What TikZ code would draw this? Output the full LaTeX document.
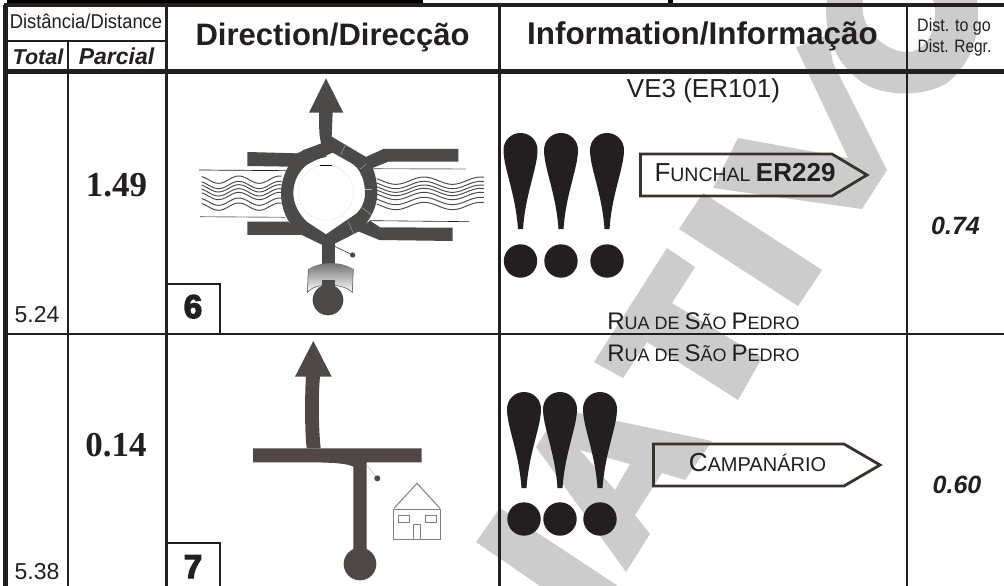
\documentclass[tikz,border=0pt]{standalone}
\usepackage{fontspec}
\setmainfont{Liberation Sans}
\newfontfamily\tmsfont{Liberation Serif}
\newfontfamily\heavyfont[FakeBold=4]{Liberation Sans Bold}
\usetikzlibrary{calc}
\newcommand{\fz}[1]{\fontsize{#1}{#1}\selectfont}
\definecolor{ink}{HTML}{231F20}
\definecolor{road}{HTML}{4B4A49}
\definecolor{roadb}{HTML}{4F4846}
\definecolor{wm}{HTML}{CCCCCC}
\definecolor{signline}{HTML}{38342C}
\tikzset{
  x=1pt,y=-1pt,
  txt/.style={inner sep=0pt,outer sep=0pt,text=ink,anchor=base},
  rule/.style={draw=ink,line width=2.2pt},
  thick rule/.style={draw=ink,line width=4.5pt},
  numbox/.style={draw=ink,line width=2pt},
  roadfill/.style={fill=road,draw=none},
  wave/.style={draw=road,line width=0.95pt},
  signbox/.style={draw=signline,line width=2.8pt,line join=miter},
  housel/.style={draw=black!50,line width=1pt},
  drop/.style={fill=ink,draw=none},
}
\begin{document}
\begin{tikzpicture}
\useasboundingbox (0,0) rectangle (1004,586);
\fill[white] (0,0) rectangle (1004,586);
% watermark
\begin{scope}[every path/.style={fill=wm,draw=none}]
\path (827,0) .. controls (823,30) and (833,62) .. (863,83) .. controls (885,97) and (925,97) .. (947,83) .. controls (970,65) and (982,35) .. (977,0) -- (933,0) .. controls (940,20) and (930,52) .. (907,52) .. controls (885,52) and (858,28) .. (863,0) -- cycle;
\path (796,47) -- (828,35) -- (833,63) -- (887,170) -- (862,209) -- (713,188) -- (738,138) -- (848,158) -- cycle;
\path (703,193) -- (822,270) -- (798,306) -- (679,229) -- cycle;
\path (667,248) -- (695,267) -- (672,303) -- (762,358) -- (738,400) -- (647,342) -- (623,378) -- (594,362) -- cycle;
\path[even odd rule] (560,409) -- (712,441) -- (685,480) -- (662,473) -- (635,515) -- (650,534) -- (626,572) -- (536,447) -- cycle (580,450) -- (630,464) -- (615,490) -- cycle;
\path (500,508) -- (618,586) -- (540,586) -- (476,542) -- cycle;
\end{scope}
% table
\fill[black] (7,0) rectangle (423,3);
\fill[black] (668,0) rectangle (673,3);
\draw[thick rule] (5.5,5) -- (5.5,586);
\draw[draw=ink,line width=4pt] (4,5) -- (1004,5);
\draw[thick rule] (4,71.5) -- (1004,71.5);
\draw[rule] (4,334) -- (1004,334);
\draw[rule] (8,41) -- (166.5,41);
\draw[rule] (68,41) -- (68,586);
\draw[rule] (166.5,5) -- (166.5,586);
\draw[rule] (499.5,5) -- (499.5,586);
\draw[rule] (907,5) -- (907,586);
\draw[numbox] (166.5,284) -- (220,284) -- (220,334);
\draw[numbox] (166.5,543) -- (220,543) -- (220,586);
% header text
\node[txt] (hdist) at (86,29) {\scalebox{0.92}[1]{\fz{20}Distância/Distance}};
\node[txt] (htotal) at (38,65) {\fz{21.5}\bfseries\itshape Total};
\node[txt] (hparc) at (116.5,65) {\fz{23}\bfseries\itshape Parcial};
\node[txt] (hdir) at (332.5,46) {\fz{31}\bfseries Direction/Direcção};
\node[txt] (hinf) at (702.5,45) {\fz{31.4}\bfseries Information/Informação};
\node[txt] (hgo) at (954,32) {\scalebox{0.89}[1]{\fz{18}Dist. to go}};
\node[txt] (hreg) at (954.5,53) {\scalebox{0.86}[1]{\fz{18}Dist. Regr.}};
% row values
\node[txt] (p1) at (116.5,196) {\fz{35}\tmsfont\bfseries 1.49};
\node[txt] (p2) at (116,456) {\fz{35}\tmsfont\bfseries 0.14};
\node[txt] (t1) at (37,322) {\fz{23}5.24};
\node[txt] (t2) at (37,579) {\fz{23}5.38};
\node[txt] (r1) at (955.5,234) {\fz{25}\bfseries\itshape 0.74};
\node[txt] (r2) at (957,493) {\fz{25}\bfseries\itshape 0.60};
\node[txt] (n6) at (193,318) {\fz{33}\heavyfont 6};
\node[txt] (n7) at (193,578) {\fz{33}\heavyfont 7};
% information text
\node[txt] (ve) at (703.5,97) {\fz{26}VE3 (ER101)};
\node[txt] (rua1) at (703.5,329) {\fz{24}R\fz{18}UA DE \fz{24}S\fz{18}ÃO \fz{24}P\fz{18}EDRO};
\node[txt] (rua2) at (703.5,361) {\fz{24}R\fz{18}UA DE \fz{24}S\fz{18}ÃO \fz{24}P\fz{18}EDRO};
% signs
\draw[signbox] (640.5,154) -- (832,154) -- (867,175) -- (832,196) -- (640.5,196) -- cycle;
\node[txt,anchor=base west] (fun) at (654.5,181) {\fz{26}F\fz{19.5}UNCHAL \fz{26}\bfseries ER229};
\draw[signbox] (653.5,444) -- (844,444) -- (880,465) -- (844,486) -- (653.5,486) -- cycle;
\node[txt] (cam) at (757.5,471) {\fz{26}C\fz{20}AMPANÁRIO};
% exclamation marks
\foreach \cx/\top/\cy in {520.5/133/261,561/133/261,607/133/261,524/392/519,560/392/519,600/392/519}{
  \path[drop] ({\cx-2.5},{\top+96}) .. controls ({\cx-5},{\top+60}) and ({\cx-17},{\top+35}) .. ({\cx-17},{\top+17})
     .. controls ({\cx-17},{\top+7.5}) and ({\cx-9.4},\top) .. (\cx,\top)
     .. controls ({\cx+9.4},\top) and ({\cx+17},{\top+7.5}) .. ({\cx+17},{\top+17})
     .. controls ({\cx+17},{\top+35}) and ({\cx+5},{\top+60}) .. ({\cx+2.5},{\top+96}) -- cycle;
  \fill[ink] (\cx,\cy) circle[radius=16.7];
}
% roundabout
\begin{scope}[shift={(170,70)},x=0.33333pt,y=-0.33333pt]
  % flood lines
  \foreach \yy in {329,345,355,367,378,395,410}{
    \draw[wave] plot[smooth,domain=95:335,samples=40] (\x,{\yy+11*sin((\x-115)*2.95)});
  }
  \foreach \yy in {332,345,356,366,378,393,408}{
    \draw[wave] plot[smooth,domain=620:942,samples=50] (\x,{\yy+11*sin((\x-635)*2.12)});
  }
  \draw[draw=ink,line width=0.7pt] (87,300) -- (350,302);
  \draw[draw=black!50,line width=0.9pt] (90,440) -- (345,442);
  \draw[draw=black!50,line width=0.9pt] (610,296) -- (888,297);
  \draw[draw=ink,line width=0.6pt] (600,452) -- (898,455);
  % arms
  \path[roadfill] (232,246) -- (380,250) .. controls (410,240) and (430,230) .. (455,220) -- (470,260) -- (360,290) -- (232,288) -- cycle;
  \path[roadfill] (585,262) -- (640,237) -- (865,237) -- (865,275) -- (655,275) -- (605,295) -- cycle;
  \path[roadfill] (232,455) -- (355,455) -- (395,495) -- (232,495) -- cycle;
  \path[roadfill] (600,452) -- (630,472) -- (848,473) -- (848,513) -- (628,510) -- (560,482) -- cycle;
  % arrow
  \path[roadfill] (468,25) -- (520,128) -- (488,128) -- (485,200) -- (500,215) -- (455,225) .. controls (448,205) and (447,180) .. (447,128) -- (417,128) -- cycle;
  % ring
  \path[roadfill,even odd rule] (485,200) -- (590,262) .. controls (612,290) and (622,330) .. (622,370) .. controls (622,410) and (600,455) .. (565,485) -- (472,532) -- (385,490) .. controls (350,455) and (333,415) .. (333,370) .. controls (333,320) and (360,265) .. (400,240) -- (455,220) -- cycle
    (488,248) -- (545,280) .. controls (570,295) and (585,330) .. (585,370) .. controls (585,395) and (575,415) .. (560,430) -- (468,493) -- (410,455) .. controls (385,430) and (370,400) .. (370,370) .. controls (370,335) and (385,305) .. (410,285) .. controls (435,270) and (465,258) .. (488,248) -- cycle;
  \draw[draw=black!10,line width=0.4pt] (468,368) circle[radius=83];
  \draw[draw=black,line width=0.7pt] (450,286) -- (486,286);
  \foreach \ax/\ay/\bx/\by in {527/222/512/255,588/283/570/298,585/358/607/358,575/412/605/435,535/455/550/490}{
    \draw[draw=black!30,line width=0.4pt] (\ax,\ay) -- (\bx,\by);
  }
  % entry
  \path[roadfill] (455,520) rectangle (495,650);
  \draw[draw=road,line width=0.7pt] (490,527) -- (548,555);
  \fill[road] (548,555) circle[radius=8];
  \shade[top color=black!60,bottom color=white,draw=none] (415,597) .. controls (450,575) and (510,572) .. (550,597) -- (547,668) .. controls (525,640) and (435,635) .. (412,668) -- cycle;
  \draw[draw=road,line width=0.5pt] (415,597) -- (412,668) .. controls (435,635) and (525,640) .. (547,668) -- (550,597);
  \path[roadfill] (456,630) rectangle (494,660);
  \fill[road] (474,690) circle[radius=46];
\end{scope}
% T junction
\begin{scope}[shift={(170,330)},x=0.33333pt,y=-0.33333pt]
  \path[fill=roadb] (430,33) -- (485,140) -- (450,140) .. controls (444,200) and (446,300) .. (452,355) -- (410,355) .. controls (404,300) and (404,200) .. (408,140) -- (375,140) -- cycle;
  \path[fill=roadb] (249,355) -- (755,355) -- (755,397) -- (590,397) -- (590,660) -- (550,660) -- (550,410) .. controls (530,400) and (490,398) .. (435,397) -- (249,397) -- cycle;
  \fill[roadb] (570,702) circle[radius=49];
  \draw[draw=black!25,line width=0.5pt] (590,405) -- (622,445);
  \fill[road] (622,445) circle[radius=9];
  \draw[housel] (672,535) -- (741,460) -- (810,535);
  \draw[housel] (670,537) rectangle (811,628);
  \draw[housel] (684,555) rectangle (718,577);
  \draw[housel] (765,555) rectangle (798,577);
  \draw[housel] (730,628) -- (730,582) -- (752,582) -- (752,628);
\end{scope}
\end{tikzpicture}
\end{document}
